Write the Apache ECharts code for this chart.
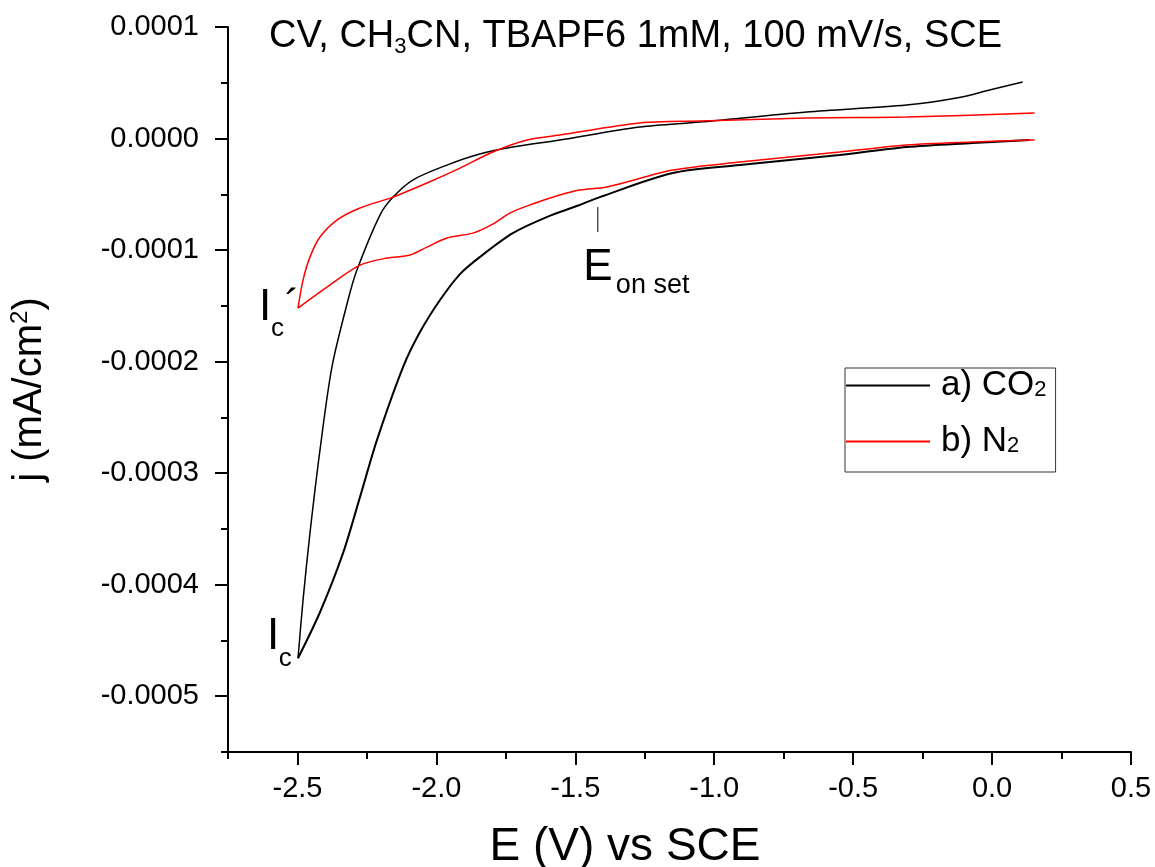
<!DOCTYPE html>
<html><head><meta charset="utf-8">
<script src="https://cdn.jsdelivr.net/npm/echarts@6/dist/echarts.min.js"></script>
<style>html,body{margin:0;padding:0;background:#fff}#c{width:1155px;height:867px}</style>
</head><body><div id="c"></div>
<script>
// ---- data (E in V vs SCE, j as plotted) ----
const co2LowerE = [-2.498, -2.419, -2.336, -2.275, -2.214, -2.120, -2.059, -1.987, -1.915, -1.844, -1.725, -1.603, -1.484, -1.412, -1.149, -0.908, -0.549, -0.308, -0.070, 0.135];
const co2LowerJ = [-0.0004659, -0.0004247, -0.0003717, -0.0003215, -0.0002704, -0.0002049, -0.0001735, -0.0001448, -0.0001215, -0.0001063, -0.0000848, -0.0000704, -0.0000596, -0.0000525, -0.0000309, -0.0000238, -0.0000148, -0.0000076, -0.0000040, -0.0000013];
const co2UpperE = [-2.498, -2.480, -2.455, -2.419, -2.376, -2.318, -2.286, -2.203, -2.156, -2.085, -1.962, -1.844, -1.725, -1.556, -1.268, -1.052, -0.667, -0.308, -0.128, -0.009, 0.110];
const co2UpperJ = [-0.0004659, -0.0004139, -0.0003538, -0.0002794, -0.0002049, -0.0001448, -0.0001179, -0.0000686, -0.0000525, -0.0000372, -0.0000238, -0.0000139, -0.0000076, -0.0000013, 0.0000103, 0.0000148, 0.0000238, 0.0000300, 0.0000363, 0.0000435, 0.0000507];
const n2LowerE = [-2.498, -2.394, -2.275, -2.178, -2.095, -2.034, -1.962, -1.869, -1.797, -1.736, -1.664, -1.556, -1.484, -1.387, -1.149, -0.908, -0.549, -0.308, -0.070, 0.153];
const n2LowerJ = [-0.0001520, -0.0001332, -0.0001135, -0.0001072, -0.0001045, -0.0000973, -0.0000892, -0.0000848, -0.0000767, -0.0000668, -0.0000596, -0.0000507, -0.0000462, -0.0000435, -0.0000283, -0.0000211, -0.0000121, -0.0000058, -0.0000031, -0.0000013];
const n2UpperE = [-2.498, -2.480, -2.455, -2.419, -2.358, -2.275, -2.156, -2.034, -1.915, -1.797, -1.674, -1.556, -1.268, -1.052, -0.667, -0.308, 0.153];
const n2UpperJ = [-0.0001520, -0.0001269, -0.0001063, -0.0000883, -0.0000731, -0.0000623, -0.0000525, -0.0000399, -0.0000265, -0.0000121, -0.0000013, 0.0000031, 0.0000139, 0.0000157, 0.0000184, 0.0000193, 0.0000229];

const seriesNames = ['a) CO2', 'b) N2'];
const seriesColors = ['#000000', '#ff0000'];
const xMajorTicks = [-2.5, -2.0, -1.5, -1.0, -0.5, 0.0, 0.5];
const xMinorTicks = [-2.75, -2.25, -1.75, -1.25, -0.75, -0.25, 0.25];
const yMajorTicks = [-0.0005, -0.0004, -0.0003, -0.0002, -0.0001, 0, 0.0001];
const yMinorTicks = [-0.00055, -0.00045, -0.00035, -0.00025, -0.00015, -0.00005, 0.00005];

// annotation anchors (data coords of left/baseline of each text piece)
const annotations = [
  {t: 'I', e: -2.610, j: -0.0004605, size: 44},
  {t: 'c', e: -2.567, j: -0.0004749, size: 26},
  {t: 'I', e: -2.638, j: -0.0001655, size: 44},
  {t: 'c', e: -2.595, j: -0.0001789, size: 26},
  {t: '\u00B4', e: -2.545, j: -0.0001655, size: 44},
  {t: 'E', e: -1.471, j: -0.0001296, size: 44},
  {t: 'on set', e: -1.354, j: -0.0001404, size: 27}
];
const onsetMarkE = -1.419, onsetMarkJ = [-0.0000614, -0.0000839];

const FONT = '"Liberation Sans", Arial, sans-serif';
const zip = (a, b) => a.map((v, i) => [v, b[i]]);

const chart = echarts.init(document.getElementById('c'), null, {renderer: 'canvas'});

const baseLine = (name, E, J, color, width) => ({
  type: 'line', name, data: zip(E, J), xAxisIndex: 0, yAxisIndex: 0,
  symbol: 'none', showSymbol: false, smooth: 0.3,
  lineStyle: {color, width}, itemStyle: {color}, silent: true, animation: false
});

const option = {
  animation: false,
  backgroundColor: '#fff',
  textStyle: {fontFamily: FONT},
  title: {
    text: '{m|CV, CH}{s|3}{m|CN, TBAPF6 1mM, 100 mV/s, SCE}',
    left: 269, top: 16, padding: 0,
    textStyle: {
      fontWeight: 'normal',
      rich: {
        m: {fontFamily: FONT, fontSize: 38, fontWeight: 'normal', color: '#000', lineHeight: 42},
        s: {fontFamily: FONT, fontSize: 22, fontWeight: 'normal', color: '#000', lineHeight: 8, verticalAlign: 'bottom'}
      }
    }
  },
  legend: {
    data: seriesNames.map((n, i) => ({name: n, icon: 'rect', itemStyle: {color: seriesColors[i], borderWidth: 0, opacity: 1}})),
    orient: 'vertical', left: 845, top: 368,
    itemWidth: 84, itemHeight: 2, itemGap: 21,
    padding: [0, 9, 13, 1],
    borderColor: '#333', borderWidth: 1, borderRadius: 0,
    formatter: n => n === 'a) CO2' ? '{m|a) CO}{s|2}' : '{m|b) N}{s|2}',
    textStyle: {
      color: '#000',
      rich: {
        m: {fontFamily: FONT, fontSize: 35, color: '#000', lineHeight: 30, padding: [0, 0, 0, 6]},
        s: {fontFamily: FONT, fontSize: 22, color: '#000', lineHeight: 8, verticalAlign: 'bottom'}
      }
    }
  },
  grid: {left: 228, right: 24, top: 27, bottom: 115, containLabel: false, outerBoundsMode: 'none'},
  xAxis: [
    {
      type: 'value', min: -2.75, max: 0.5, position: 'bottom',
      axisLine: {show: true, onZero: false, lineStyle: {color: '#000', width: 2}},
      axisTick: {show: true, customValues: xMajorTicks, length: 13, lineStyle: {color: '#000', width: 2}},
      axisLabel: {customValues: xMajorTicks, formatter: v => v.toFixed(1), fontFamily: FONT, fontSize: 29, color: '#000', margin: 22},
      splitLine: {show: false},
      name: 'E (V) vs SCE', nameLocation: 'middle', nameGap: 72, nameMoveOverlap: false,
      nameTextStyle: {fontFamily: FONT, fontSize: 46, color: '#000', padding: [0, 109, 0, 0]}
    },
    {
      type: 'value', min: -2.75, max: 0.5, position: 'bottom',
      axisLine: {show: false, onZero: false},
      axisTick: {show: true, customValues: xMinorTicks, length: 7, lineStyle: {color: '#000', width: 2}},
      axisLabel: {show: false}, splitLine: {show: false}
    }
  ],
  yAxis: [
    {
      type: 'value', min: -0.00055, max: 0.0001, position: 'left',
      axisLine: {show: true, onZero: false, lineStyle: {color: '#000', width: 2}},
      axisTick: {show: true, customValues: yMajorTicks, length: 13, lineStyle: {color: '#000', width: 2}},
      axisLabel: {customValues: yMajorTicks, formatter: v => v.toFixed(4), fontFamily: FONT, fontSize: 29, color: '#000', margin: 29},
      splitLine: {show: false},
      name: '{m|j (mA/cm}{p|2}{m|)}', nameLocation: 'middle', nameRotate: 90, nameGap: 176, nameMoveOverlap: false,
      nameTextStyle: {
        color: '#000',
        rich: {
          m: {fontFamily: FONT, fontSize: 40, color: '#000', lineHeight: 44},
          p: {fontFamily: FONT, fontSize: 24, color: '#000', lineHeight: 24, verticalAlign: 'top'}
        }
      }
    },
    {
      type: 'value', min: -0.00055, max: 0.0001, position: 'left',
      axisLine: {show: false, onZero: false},
      axisTick: {show: true, customValues: yMinorTicks, length: 7, lineStyle: {color: '#000', width: 2}},
      axisLabel: {show: false}, splitLine: {show: false}
    }
  ],
  series: [
    baseLine(seriesNames[0], co2LowerE, co2LowerJ, seriesColors[0], 2),
    baseLine(seriesNames[0], co2UpperE, co2UpperJ, seriesColors[0], 1.5),
    baseLine(seriesNames[1], n2LowerE, n2LowerJ, seriesColors[1], 1.5),
    baseLine(seriesNames[1], n2UpperE, n2UpperJ, seriesColors[1], 1.5)
  ]
};
chart.setOption(option);

// annotations placed through the chart's own scales
const toPx = (e, j) => chart.convertToPixel({xAxisIndex: 0, yAxisIndex: 0}, [e, j]);
const MID = 0.3465;
const graphics = annotations.map(a => {
  const p = toPx(a.e, a.j);
  return {
    type: 'text', x: p[0], y: p[1] - MID * a.size, silent: true,
    style: {text: a.t, fontFamily: FONT, fontSize: a.size, fill: '#000', align: 'left', verticalAlign: 'middle'}
  };
});
const m0 = toPx(onsetMarkE, onsetMarkJ[0]);
const m1 = toPx(onsetMarkE, onsetMarkJ[1]);
graphics.push({type: 'line', silent: true, shape: {x1: m0[0], y1: m0[1], x2: m1[0], y2: m1[1]}, style: {stroke: '#000', lineWidth: 1}});
chart.setOption({graphic: graphics});
</script>
</body></html>
